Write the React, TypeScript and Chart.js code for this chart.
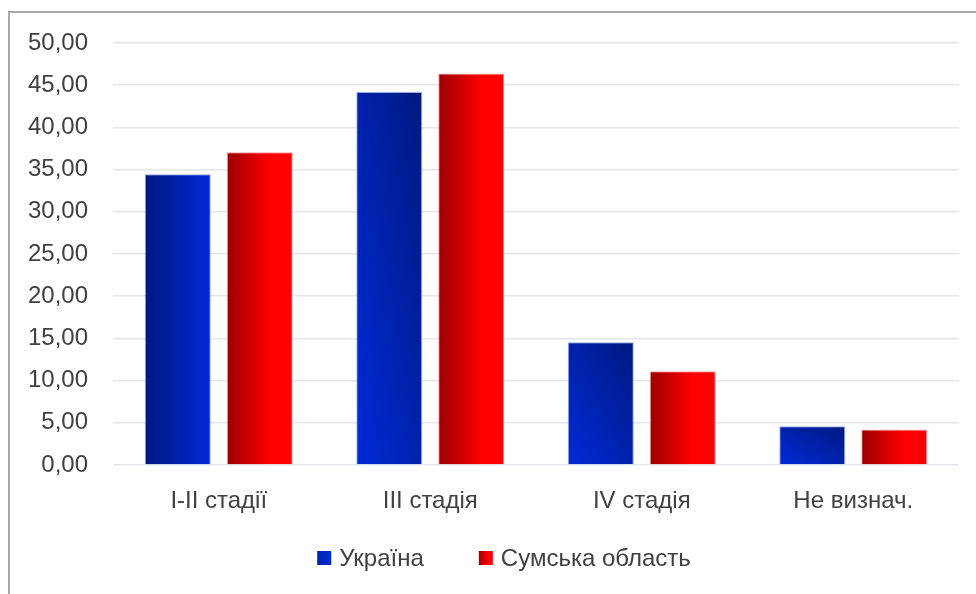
import React, { useEffect, useRef } from "react";
import { Chart, registerables } from "chart.js";

Chart.register(...registerables);

const categories = ["I-II стадії", "III стадія", "IV стадія", "Не визнач."];
const seriesNames = ["Україна", "Сумська область"];
const ukraineValues = [34.45, 44.2, 14.55, 4.6];
const sumyValues = [37.05, 46.4, 11.1, 4.2];
const yMin = 0;
const yMax = 50;
const yStep = 5;

const FONT = "'Liberation Sans', Arial, sans-serif";
const TEXT = "#404040";
const CAT_PCT = 0.775;
const BAR_PCT = 0.805;

function barFill(c: any) {
  const chart = c.chart;
  const di = c.datasetIndex;
  const solid = di === 0 ? "#0026c8" : "#e00000";
  if (c.type !== "data" || !chart.chartArea || !chart.scales.x || !chart.scales.y) return solid;
  const xs = chart.scales.x;
  const ys = chart.scales.y;
  const i = c.dataIndex;
  const n = chart.data.labels.length;
  const slot = ((xs.width / n) * CAT_PCT) / 2;
  const w = slot * BAR_PCT;
  const cx = xs.getPixelForValue(i) + (di === 0 ? -slot / 2 : slot / 2);
  const left = cx - w / 2;
  const right = cx + w / 2;
  const top = ys.getPixelForValue(c.raw);
  const bottom = ys.getPixelForValue(0);
  const ctx = chart.ctx as CanvasRenderingContext2D;
  let g: CanvasGradient;
  if (di === 0) {
    if (i === 0) {
      g = ctx.createLinearGradient(left, 0, right, 0);
      g.addColorStop(0, "#00187f");
      g.addColorStop(1, "#002ad8");
    } else {
      const h = Math.max(1, bottom - top);
      const k = (2 * w * h) / (h * h + w * w);
      g = ctx.createLinearGradient(left, bottom, left + h * k, bottom - w * k);
      g.addColorStop(0, "#002ad8");
      g.addColorStop(1, "#00197f");
    }
  } else {
    g = ctx.createLinearGradient(left, 0, right, 0);
    g.addColorStop(0, "#9a0000");
    g.addColorStop(0.65, "#ff0000");
    g.addColorStop(1, "#ff0000");
  }
  return g;
}

const legendPlugin = {
  id: "customLegend",
  afterDraw(chart: any) {
    const ctx = chart.ctx as CanvasRenderingContext2D;
    const fontSize = 24;
    const box = 14;
    const gapText = 8;
    const gapItem = 55;
    ctx.save();
    ctx.font = `${fontSize}px ${FONT}`;
    const labels = chart.data.datasets.map((d: any) => d.label as string);
    const widths = labels.map((t: string) => ctx.measureText(t).width);
    const total =
      widths.reduce((a: number, b: number) => a + b, 0) +
      labels.length * (box + gapText) +
      (labels.length - 1) * gapItem;
    let x = chart.width / 2 + 11 - total / 2;
    const cy = 545;
    labels.forEach((t: string, i: number) => {
      const g = ctx.createLinearGradient(x, 0, x + box, 0);
      if (i === 0) {
        g.addColorStop(0, "#0020b0");
        g.addColorStop(1, "#002ad8");
      } else {
        g.addColorStop(0, "#a00000");
        g.addColorStop(0.7, "#ff0000");
        g.addColorStop(1, "#ff0000");
      }
      ctx.fillStyle = g;
      ctx.fillRect(x, cy - box / 2, box, box);
      x += box + gapText;
      ctx.fillStyle = TEXT;
      ctx.textAlign = "left";
      ctx.textBaseline = "middle";
      ctx.fillText(t, x, cy + 1);
      x += widths[i] + gapItem;
    });
    ctx.restore();
  },
};

export default function App() {
  const canvasRef = useRef<HTMLCanvasElement | null>(null);

  useEffect(() => {
    if (!canvasRef.current) return;
    const chart = new Chart(canvasRef.current, {
      type: "bar",
      data: {
        labels: categories,
        datasets: [
          {
            label: seriesNames[0],
            data: ukraineValues,
            backgroundColor: barFill,
            borderColor: "rgba(140,160,235,0.9)",
            borderWidth: 1,
          },
          {
            label: seriesNames[1],
            data: sumyValues,
            backgroundColor: barFill,
            borderColor: "rgba(255,150,150,0.9)",
            borderWidth: 1,
          },
        ],
      },
      options: {
        responsive: false,
        animation: false,
        categoryPercentage: CAT_PCT,
        barPercentage: BAR_PCT,
        layout: { padding: { top: 30, right: 17, bottom: 69, left: 0 } },
        plugins: {
          tooltip: { enabled: false },
          legend: { display: false },
        },
        scales: {
          x: {
            grid: { display: false, drawTicks: false },
            border: { display: false },
            ticks: { color: TEXT, font: { family: FONT, size: 24 }, padding: 22 },
            afterFit(s: any) {
              s.height = 60;
            },
          },
          y: {
            min: yMin,
            max: yMax,
            grid: {
              color: "#e4e6eb",
              lineWidth: 1.5,
              drawTicks: true,
              tickLength: 25,
              tickColor: "rgba(0,0,0,0)",
            },
            border: { display: false },
            ticks: {
              stepSize: yStep,
              color: TEXT,
              font: { family: FONT, size: 24 },
              padding: 0,
              callback: (v: any) => Number(v).toFixed(2).replace(".", ","),
            },
            afterFit(s: any) {
              s.width = 103;
            },
          },
        },
      },
      plugins: [legendPlugin],
    });
    return () => chart.destroy();
  }, []);

  return (
    <div
      style={{
        position: "absolute",
        left: 8,
        top: 11,
        width: 966,
        height: 581,
        borderTop: "2px solid #a9a9a9",
        borderLeft: "2px solid #a9a9a9",
        background: "#fff",
      }}
    >
      <canvas ref={canvasRef} width={966} height={581} style={{ display: "block" }} />
    </div>
  );
}
